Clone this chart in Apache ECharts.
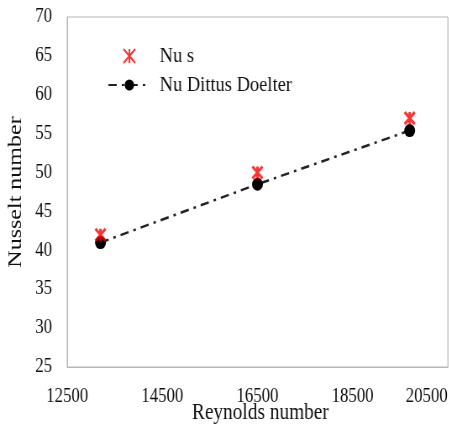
<!DOCTYPE html>
<html>
<head>
<meta charset="utf-8">
<script src="https://cdn.jsdelivr.net/npm/echarts@6/dist/echarts.min.js"></script>
<style>
  html, body { margin: 0; padding: 0; background: #fff; overflow: hidden; }
  /* the source image is squeezed horizontally; draw wider and squeeze the same way */
  #chart { width: 534px; height: 425px; transform: scaleX(0.84); transform-origin: 0 0; }
</style>
</head>
<body>
<div id="chart"></div>
<script>
// Reynolds number for each run
const reynolds = [13200, 16500, 19700]
// measured and correlation Nusselt numbers
const nuS = [42, 50, 57]
const nuDittus = [41, 48.5, 55.4]

const FONT = '"Liberation Serif", "Times New Roman", serif'
const STAR = 'path://M0,0L10,10M10,0L0,10M5,0L5,10'

const chart = echarts.init(document.getElementById('chart'))

chart.setOption({
  backgroundColor: '#fff',
  animation: false,
  // x axis title, placed by hand (axis name gets pushed off the page)
  title: {
    text: 'Reynolds number',
    left: 310,
    top: 401,
    textAlign: 'center',
    padding: 0,
    textStyle: { fontFamily: FONT, fontSize: 23, fontWeight: 'normal', color: '#111' },
  },
  grid: {
    left: 80, right: 1, top: 17, bottom: 58,
    outerBoundsMode: 'none',
    show: true, borderColor: '#b5b5b5', borderWidth: 1,
  },
  legend: {
    orient: 'vertical',
    left: 123,
    top: 40,
    itemWidth: 50,
    itemHeight: 14,
    itemGap: 7,
    textStyle: { fontFamily: FONT, fontSize: 22, color: '#111', padding: [0, 0, 0, 6] },
    data: ['Nu s', 'Nu Dittus Doelter'],
  },
  xAxis: {
    type: 'value',
    min: 12500,
    max: 20500,
    interval: 2000,
    axisLine: { show: true, lineStyle: { color: '#b5b5b5' } },
    axisTick: { show: false },
    splitLine: { show: false },
    axisLabel: {
      fontFamily: FONT, fontSize: 20, color: '#111', margin: 20,
      alignMaxLabel: 'right',
      formatter: (v) => String(v),
    },
  },
  yAxis: {
    type: 'value',
    min: 25,
    max: 70,
    interval: 5,
    name: 'Nusselt number',
    nameLocation: 'middle',
    nameGap: 41,
    nameTextStyle: { fontFamily: FONT, fontSize: 24, color: '#111' },
    axisLine: { show: true, lineStyle: { color: '#b5b5b5' } },
    axisTick: { show: false },
    splitLine: { show: false },
    axisLabel: { fontFamily: FONT, fontSize: 20, color: '#111', margin: 18 },
  },
  series: [
    {
      name: 'Nu Dittus Doelter',
      type: 'line',
      data: reynolds.map((r, i) => [r, nuDittus[i]]),
      symbol: 'circle',
      symbolSize: 13,
      itemStyle: { color: '#000' },
      lineStyle: { color: '#222', width: 2.5, type: [10, 6, 3, 6] },
      z: 2,
    },
    {
      name: 'Nu s',
      type: 'scatter',
      data: reynolds.map((r, i) => [r, nuS[i]]),
      symbol: STAR,
      symbolSize: 12,
      itemStyle: { color: 'rgba(0,0,0,0)', borderColor: '#ff0000', borderWidth: 3 },
      z: 3,
    },
  ],
})
</script>
</body>
</html>
